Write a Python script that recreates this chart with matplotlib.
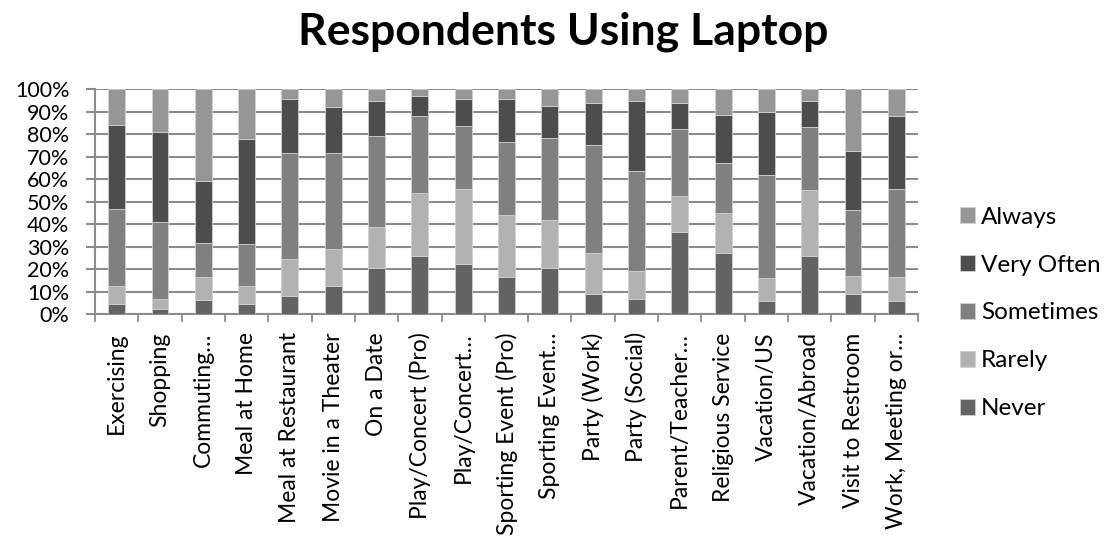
import matplotlib.pyplot as plt
import numpy as np

plt.rcParams['font.family'] = ['Lato', 'DejaVu Sans']

# Share of respondents (%) per activity, split by answer
categories = ["Exercising", "Shopping", "Commuting…", "Meal at Home",
              "Meal at Restaurant", "Movie in a Theater", "On a Date",
              "Play/Concert (Pro)", "Play/Concert…", "Sporting Event (Pro)",
              "Sporting Event…", "Party (Work)", "Party (Social)",
              "Parent/Teacher…", "Religious Service", "Vacation/US",
              "Vacation/Abroad", "Visit to Restroom", "Work, Meeting or…"]

never = [4.6, 2.4, 6.4, 4.6, 8.1, 12.7, 20.7, 25.9, 22.5, 16.7,
         20.7, 8.9, 7.0, 36.4, 27.4, 5.9, 25.9, 8.9, 5.9]
rarely = [8.0, 4.6, 10.2, 8.0, 16.5, 16.3, 18.0, 28.2, 33.2, 27.4,
          21.2, 18.4, 12.1, 16.2, 17.8, 10.4, 29.4, 8.3, 10.8]
sometimes = [34.1, 33.9, 15.0, 18.7, 47.3, 42.9, 40.6, 34.2, 28.0, 32.6,
             36.3, 48.0, 44.6, 29.6, 22.2, 45.5, 28.1, 29.2, 39.2]
very_often = [37.4, 40.1, 27.8, 46.6, 23.8, 20.2, 15.7, 8.9, 12.0, 19.0,
              14.4, 18.8, 31.3, 11.9, 21.2, 28.3, 11.6, 26.2, 32.2]
always = [15.9, 19.0, 40.6, 22.1, 4.3, 7.9, 5.0, 2.8, 4.3, 4.3,
          7.4, 5.9, 5.0, 5.9, 11.4, 9.9, 5.0, 27.4, 11.9]

series = [("Never", never, "#636363"),
          ("Rarely", rarely, "#b2b2b2"),
          ("Sometimes", sometimes, "#808080"),
          ("Very Often", very_often, "#4d4d4d"),
          ("Always", always, "#969696")]

fig = plt.figure(figsize=(11.06, 5.52), dpi=100)
ax = fig.add_axes([0.0859, 0.4306, 0.7441, 0.4074])

x = np.arange(len(categories))
bottom = np.zeros(len(categories))
handles = []
for name, vals, color in series:
    vals = np.array(vals) / 100.0
    b = ax.bar(x, vals, width=0.39, bottom=bottom, color=color,
               edgecolor="#d0d0d0", linewidth=0.6, label=name, zorder=3)
    handles.append(b)
    bottom += vals

ax.set_xlim(-0.5, len(categories) - 0.5)
ax.set_ylim(0, 1)
ax.set_yticks(np.arange(0, 1.01, 0.1))
ax.set_yticklabels([f"{int(round(v * 100))}%" for v in np.arange(0, 1.01, 0.1)],
                   fontsize=15.5)
ax.yaxis.grid(True, color="#8c8c8c", linewidth=1.5, zorder=0)
ax.set_axisbelow(True)

ax.set_xticks(x)
ax.set_xticklabels(categories, rotation=90, fontsize=16.5)
ax.set_xticks(np.arange(-0.5, len(categories)), minor=True)
ax.tick_params(axis='x', which='major', length=0, pad=13)
ax.tick_params(axis='x', which='minor', length=5.8, width=1.3, color="#8c8c8c")
ax.tick_params(axis='y', length=6.5, width=1.5, color="#8c8c8c", pad=12)

for side in ("top", "right"):
    ax.spines[side].set_visible(False)
for side in ("left", "bottom"):
    ax.spines[side].set_color("#8c8c8c")
    ax.spines[side].set_linewidth(1.5)

fig.text(0.509, 0.942, "Respondents Using Laptop", ha="center", va="center",
         fontsize=32, fontweight="bold")

ax.legend(handles[::-1], [s[0] for s in series][::-1],
          loc="center left", bbox_to_anchor=(0.848, 0.433),
          bbox_transform=fig.transFigure, frameon=False, fontsize=17.5,
          handlelength=0.62, handleheight=0.62, handletextpad=0.25,
          labelspacing=1.11)

fig.savefig("out.png", dpi=100)
